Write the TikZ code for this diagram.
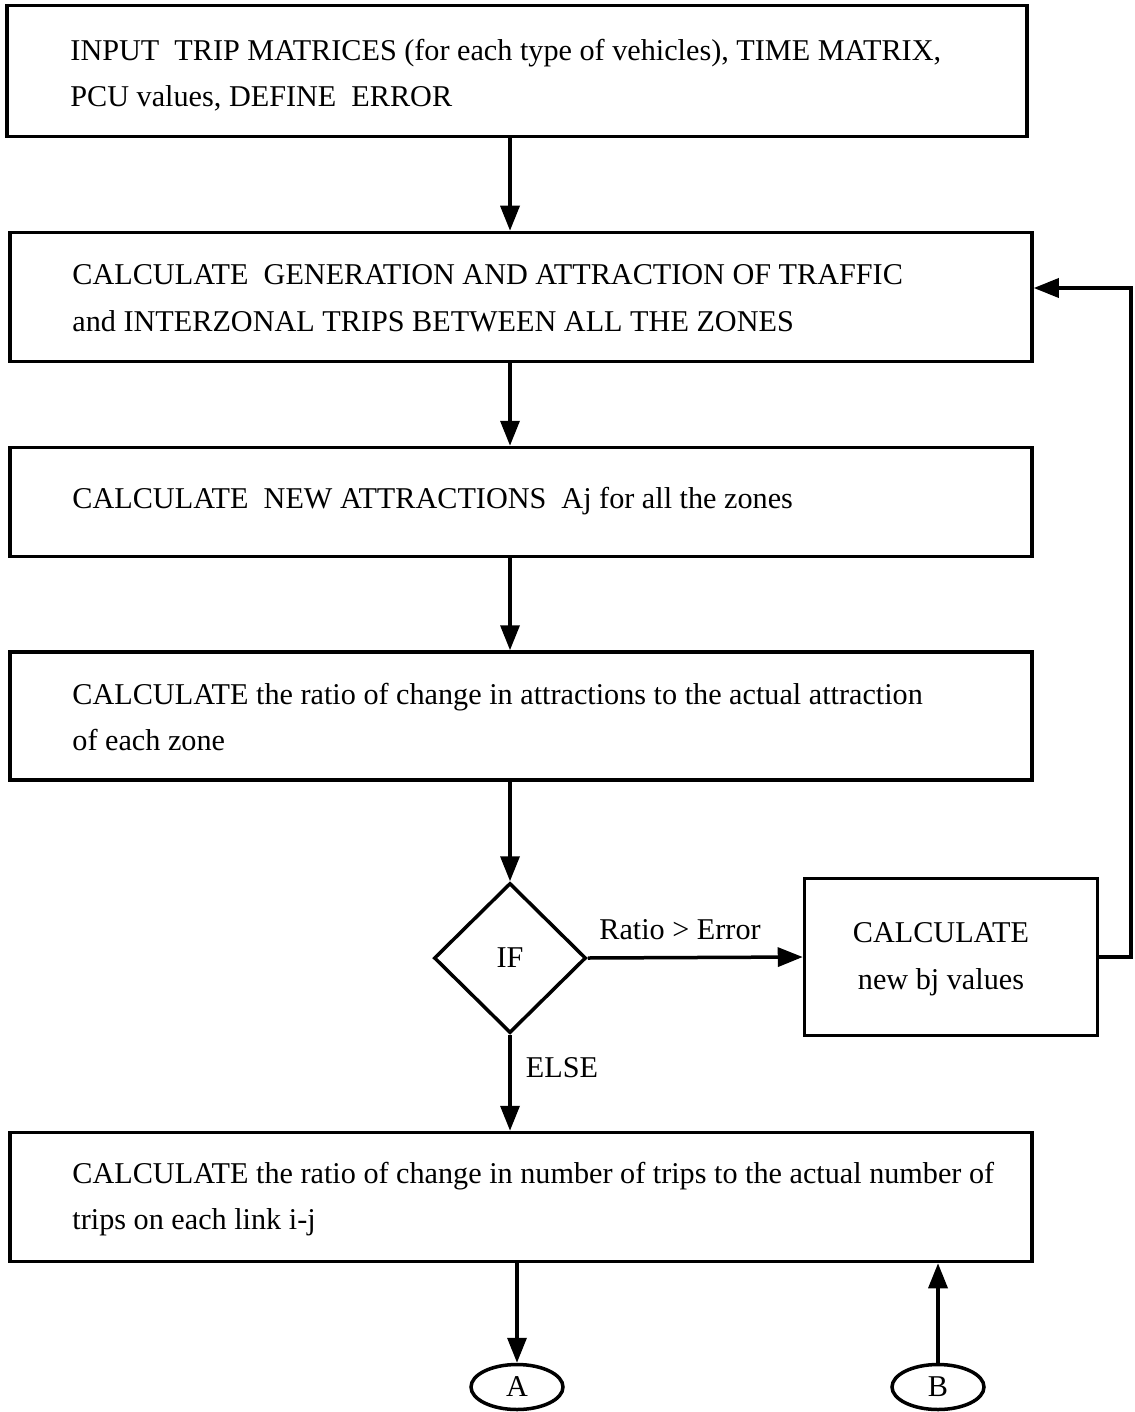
\documentclass[tikz,border=0pt]{standalone}
\usepackage{fontspec}
\setmainfont{Liberation Serif}
\usetikzlibrary{arrows.meta,shapes.geometric}

\begin{document}
\begin{tikzpicture}[x=1pt,y=-1pt,
  box/.style={draw,line width=3.5pt,rectangle,inner sep=0pt},
  txt/.style={anchor=west,align=left,inner sep=0pt,font=\fontsize{30.2}{46.5}\selectfont},
  lbl/.style={inner sep=0pt,font=\fontsize{30.2}{36}\selectfont},
  arr/.style={line width=3.5pt,-{Triangle[length=25pt,width=19pt]}},
  conn/.style={draw,ellipse,line width=3.5pt,minimum width=92pt,minimum height=45pt,inner sep=0pt,
      font=\fontsize{30.2}{36}\selectfont}]
\useasboundingbox (0,0) rectangle (1134,1412);

% process boxes
\node[box,minimum width=1020pt,minimum height=131pt] (b1) at (517,71) {};
\node[box,minimum width=1022pt,minimum height=129pt] (b2) at (521,297) {};
\node[box,minimum width=1022pt,minimum height=109pt] (b3) at (521,502) {};
\node[box,minimum width=1022pt,minimum height=128pt] (b4) at (521,716) {};
\node[box,minimum width=1022pt,minimum height=129pt] (b6) at (521,1197) {};
\node[box,minimum width=293pt,minimum height=157pt] (b5) at (951,957) {};

% decision
\node[draw,diamond,line width=3.5pt,minimum width=152pt,minimum height=150pt,inner sep=0pt,
      font=\fontsize{30.2}{36}\selectfont] (d) at (510,958) {IF};

% off-page connectors
\node[conn] (ca) at (517,1387) {A};
\node[conn] (cb) at (938,1387) {B};

% box texts
\node[txt] (t1) at ([xshift=65pt,yshift=-4pt]b1.west)
  {INPUT\ \ TRIP MATRICES (for each type of vehicles), TIME MATRIX,\\PCU values, DEFINE\ \ ERROR};
\node[txt] (t2) at ([xshift=64pt,yshift=-1pt]b2.west)
  {CALCULATE\ \ GENERATION AND ATTRACTION OF TRAFFIC\\and INTERZONAL TRIPS BETWEEN ALL THE ZONES};
\node[txt] (t3) at ([xshift=64pt,yshift=1pt]b3.west)
  {CALCULATE\ \ NEW ATTRACTIONS\ \ Aj for all the zones};
\node[txt] (t4) at ([xshift=64pt,yshift=-1pt]b4.west)
  {CALCULATE the ratio of change in attractions to the actual attraction\\of each zone};
\node[txt] (t6) at ([xshift=64pt,yshift=-2pt]b6.west)
  {CALCULATE the ratio of change in number of trips to the actual number of\\trips on each link i-j};
\node[txt,anchor=center,align=center] (t5) at ([xshift=-10pt,yshift=-2pt]b5.center)
  {CALCULATE\\new bj values};

% branch labels
\node[lbl] (lr) at (680,930) {Ratio > Error};
\node[lbl] (le) at (562,1068) {ELSE};

% main flow
\draw[arr] (b1.south -| d.north) -- (b2.north -| d.north);
\draw[arr] (b2.south -| d.north) -- (b3.north -| d.north);
\draw[arr] (b3.south -| d.north) -- (b4.north -| d.north);
\draw[arr] (b4.south -| d.north) -- (d.north);
\draw[arr] (d.east) -- (b5.west);
\draw[arr] (d.south) -- (b6.north -| d.south);
\draw[arr] (b6.south -| ca.north) -- (ca.north);
\draw[arr] (cb.north) -- (b6.south -| cb.north);

% feedback loop
\coordinate (fb) at (1131,288);
\draw[arr] (b5.east) -- (b5.east -| fb) -- (fb) -- (fb -| b2.east);
\end{tikzpicture}
\end{document}
